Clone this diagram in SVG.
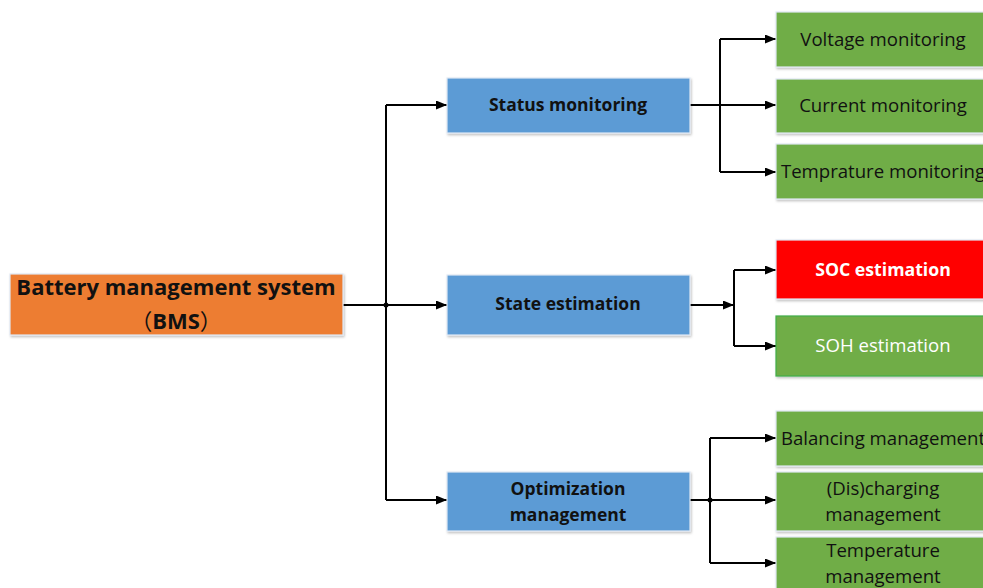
<svg xmlns="http://www.w3.org/2000/svg" width="983" height="588" viewBox="0 0 983 588">
<defs>
<marker id="arr" markerWidth="11" markerHeight="9" refX="11" refY="4.5" orient="auto" markerUnits="userSpaceOnUse">
<path d="M0,0 L11,4.5 L0,9 Z" fill="#000"/>
</marker>
<filter id="sh" x="-5%" y="-10%" width="110%" height="130%">
<feDropShadow dx="1" dy="1.5" stdDeviation="1" flood-color="#000" flood-opacity="0.25"/>
</filter>
</defs>
<style>
.box{stroke:#dfe8f4;stroke-width:1.2;filter:url(#sh)}
.or{fill:#ED7D31}.bl{fill:#5B9BD5}.gr{fill:#70AD47}.rd{fill:#FF0000}
text{font-family:"Open Sans","Noto Sans CJK SC",sans-serif;text-anchor:middle}
.cjk{font-family:"Noto Sans CJK SC",sans-serif;font-weight:normal}
.t1{font-size:22px;font-weight:bold;fill:#111}
.t2{font-size:17.5px;font-weight:bold;fill:#111}
.t3{font-size:18.6px;fill:#111}
.w{fill:#fff}
.c{fill:none;stroke:#000;stroke-width:2}
</style>
<rect width="983" height="588" fill="#fff"/>
<g id="connectors">
<path class="c" d="M343,305 H386"/>
<path class="c" d="M386,105 V500"/>
<path class="c" d="M386,105 H447" marker-end="url(#arr)"/>
<path class="c" d="M386,305 H447" marker-end="url(#arr)"/>
<path class="c" d="M386,500 H447" marker-end="url(#arr)"/>
<circle cx="386" cy="305" r="2.5" fill="#000"/>
<path class="c" d="M690,105 H720"/>
<path class="c" d="M720,39 V172"/>
<path class="c" d="M720,39 H776" marker-end="url(#arr)"/>
<path class="c" d="M720,105 H776" marker-end="url(#arr)"/>
<path class="c" d="M720,172 H776" marker-end="url(#arr)"/>
<path class="c" d="M690,305 H734" marker-end="url(#arr)"/>
<path class="c" d="M734,270 V346"/>
<path class="c" d="M734,270 H776" marker-end="url(#arr)"/>
<path class="c" d="M734,346 H776" marker-end="url(#arr)"/>
<path class="c" d="M690,500 H710"/>
<path class="c" d="M710,438 V563"/>
<path class="c" d="M710,438 H776" marker-end="url(#arr)"/>
<path class="c" d="M710,500 H776" marker-end="url(#arr)"/>
<path class="c" d="M710,563 H776" marker-end="url(#arr)"/>
<circle cx="710" cy="500" r="2.5" fill="#000"/>
</g>
<g id="bms">
<rect class="box or" x="10" y="274" width="333" height="61"/>
<text class="t1" x="176" y="295">Battery management system</text>
<text class="t1" x="176" y="329"><tspan class="cjk">（</tspan>BMS<tspan class="cjk">）</tspan></text>
</g>
<g id="status">
<rect class="box bl" x="447" y="78" width="243" height="55"/>
<text class="t2" x="568" y="111">Status monitoring</text>
</g>
<g id="state">
<rect class="box bl" x="447" y="275" width="243" height="60"/>
<text class="t2" x="568" y="310">State estimation</text>
</g>
<g id="optim">
<rect class="box bl" x="447" y="472" width="243" height="59"/>
<text class="t2" x="568" y="495">Optimization</text>
<text class="t2" x="568" y="521">management</text>
</g>
<g id="voltage">
<rect class="box gr" x="776" y="12" width="214" height="55"/>
<text class="t3" x="883" y="46">Voltage monitoring</text>
</g>
<g id="current">
<rect class="box gr" x="776" y="79" width="214" height="54"/>
<text class="t3" x="883" y="112">Current monitoring</text>
</g>
<g id="temp-mon">
<rect class="box gr" x="776" y="144" width="214" height="55"/>
<text class="t3" x="883" y="178">Temprature monitoring</text>
</g>
<g id="soc">
<rect class="box rd" x="776" y="240" width="214" height="59"/>
<text class="t2 w" x="883" y="276" style="font-size:17.7px">SOC estimation</text>
</g>
<g id="soh">
<rect class="box gr" x="776" y="316" width="214" height="60" style="stroke:#3fae49"/>
<text class="t3 w" x="883" y="352">SOH estimation</text>
</g>
<g id="balancing">
<rect class="box gr" x="776" y="411" width="214" height="55"/>
<text class="t3" x="883" y="445">Balancing management</text>
</g>
<g id="discharging">
<rect class="box gr" x="776" y="472" width="214" height="59"/>
<text class="t3" x="883" y="495">(Dis)charging</text>
<text class="t3" x="883" y="521">management</text>
</g>
<g id="temp-mgmt">
<rect class="box gr" x="776" y="537" width="214" height="60"/>
<text class="t3" x="883" y="557">Temperature</text>
<text class="t3" x="883" y="583">management</text>
</g>
</svg>
